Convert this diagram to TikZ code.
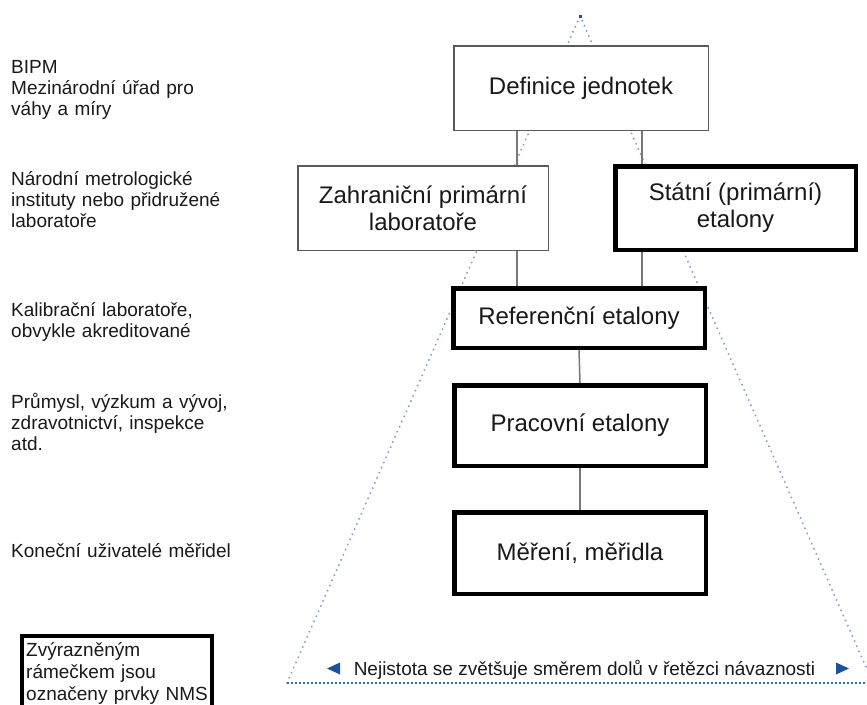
\documentclass[tikz,border=0pt]{standalone}
\usepackage{fontspec}
\setmainfont{Liberation Sans}

\definecolor{tribod}{RGB}{125,150,205}
\definecolor{zaklad}{RGB}{45,110,190}
\definecolor{sipka}{RGB}{30,80,160}
\definecolor{ramecek}{RGB}{90,90,90}
\definecolor{spoj}{RGB}{120,120,120}
\definecolor{pismo}{RGB}{25,25,25}

\tikzset{
	uroven/.style={anchor=base west, inner sep=0pt, text width=230pt, align=left, font=\fontsize{19}{21}\selectfont, text=pismo},
	tenky/.style={draw=ramecek, line width=1.5pt, fill=white, align=center, font=\fontsize{24}{27}\selectfont, text=pismo},
	tlusty/.style={draw=black, line width=4.5pt, fill=white, align=center, font=\fontsize{24}{27}\selectfont, text=pismo},
	spojnice/.style={draw=spoj, line width=1.5pt},
}

\begin{document}
\begin{tikzpicture}[x=1pt, y=-1pt]
		%%%%% START %%%%%
		\clip (0, 0) rectangle (867, 704);
		
		% trojuhelnik navaznosti
		\coordinate (vrchol) at (580, 16);
		\coordinate (levy) at (287, 683);
		\coordinate (pravy) at (873, 683);
		\draw[tribod, line width=2pt, line cap=round, dash pattern=on 0.1pt off 5.5pt] (levy) -- (vrchol) -- (pravy);
		\draw[zaklad, line width=2pt, dash pattern=on 1.6pt off 2.4pt] (levy) -- (pravy);
		\fill[sipka] (578.5, 14.5) rectangle (581.5, 17.5);
		
		% levy sloupec
		\node[uroven] (bipm) at (11, 73) {BIPM\\Mezinárodní úřad pro\\váhy a míry};
		\node[uroven] (nmi) at (11, 185) {Národní metrologické\\instituty nebo přidružené\\laboratoře};
		\node[uroven] (kallab) at (11, 316) {Kalibrační laboratoře,\\obvykle akreditované};
		\node[uroven] (prumysl) at (11, 408) {Průmysl, výzkum a vývoj,\\zdravotnictví, inspekce\\atd.};
		\node[uroven] (uziv) at (11, 557) {Koneční uživatelé měřidel};
		
		% bloky
		\node[tenky, minimum width=254.5pt, minimum height=84.5pt] (defin) at (581, 88) {Definice jednotek};
		\node[tenky, minimum width=250.5pt, minimum height=84.5pt] (zahr) at (423, 208) {Zahraniční primární\\laboratoře};
		\node[tlusty, minimum width=240.5pt, minimum height=83.5pt] (statni) at (735.5, 208) {Státní (primární)\\etalony};
		\node[tlusty, minimum width=251.5pt, minimum height=59.5pt] (refer) at (579, 318) {Referenční etalony};
		\node[tlusty, minimum width=251.5pt, minimum height=80.5pt] (prac) at (580, 425.5) {Pracovní etalony};
		\node[tlusty, minimum width=251.5pt, minimum height=81.5pt] (mereni) at (580, 553) {Měření, měřidla};
		
		% spojnice
		\coordinate (lx) at (517, 0);
		\coordinate (rx) at (642, 0);
		\draw[spojnice] (defin.south -| lx) -- (zahr.north -| lx);
		\draw[spojnice] (zahr.south -| lx) -- (refer.north -| lx);
		\draw[spojnice] (defin.south -| rx) -- (statni.north -| rx);
		\draw[spojnice] (statni.south -| rx) -- (refer.north -| rx);
		\draw[spojnice] (refer.south) -- (prac.north);
		\draw[spojnice] (prac.south) -- (mereni.north);
		
		% nejistota
		\node[anchor=base, inner sep=0pt, font=\fontsize{19}{21}\selectfont, text=pismo] (nejist) at (584.5, 675) {Nejistota se zvětšuje směrem dolů v řetězci návaznosti};
		\fill[sipka] (327, 668.5) -- (340, 662.5) -- (340, 674.5) -- cycle;
		\fill[sipka] (849, 668.5) -- (836, 662.5) -- (836, 674.5) -- cycle;
		
		% legenda
		\node[uroven, text width=185pt, font=\fontsize{19}{22}\selectfont] (legenda) at (26, 656) {Zvýrazněným\\rámečkem jsou\\označeny prvky NMS};
		\draw[line width=4pt] (22, 636) rectangle (212, 740);
		
		%%%%% END %%%%%
\end{tikzpicture}
\end{document}
